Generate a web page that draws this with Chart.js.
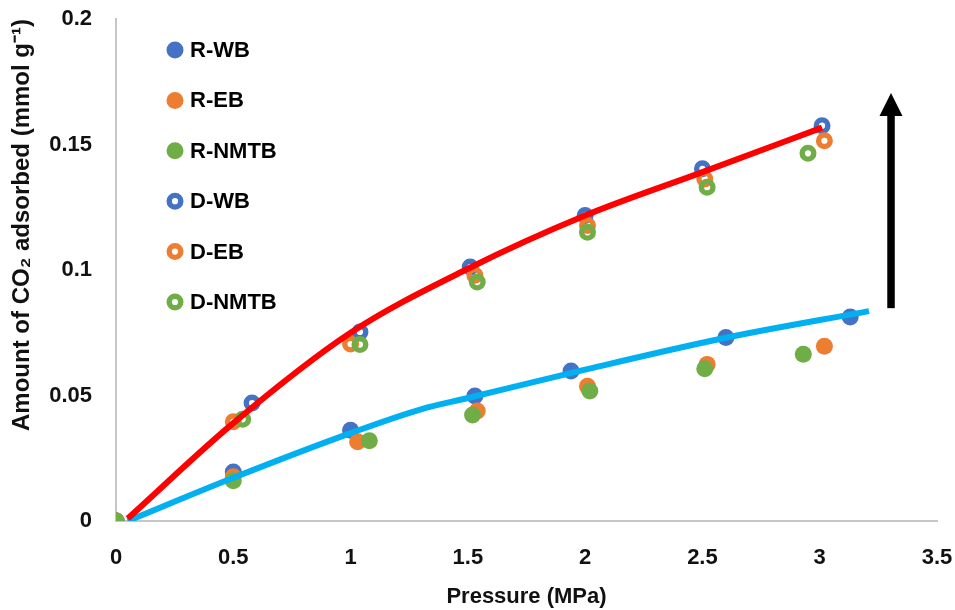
<!doctype html>
<html lang="en">
  <head>
    <meta charset="utf-8">
    <title>CO2 adsorption vs pressure</title>
    <style>
      * {
        margin: 0;
        padding: 0;
      }
      body {
        background: #fff;
      }
      .chartBox {
        width: 955px;
        height: 610px;
      }
    </style>
  </head>
  <body>
    <div class="chartBox">
      <canvas id="myChart" width="955" height="610"></canvas>
    </div>
    <script src="https://cdn.jsdelivr.net/npm/chart.js"></script>
    <script>
    // data (pressure in MPa, amount in mmol/g)
    const seriesNames = ['R-WB', 'R-EB', 'R-NMTB', 'D-WB', 'D-EB', 'D-NMTB'];

    const rWbX = [0, 0.50, 1.00, 1.53, 1.94, 2.60, 3.13];
    const rWbY = [0, 0.0195, 0.0362, 0.0498, 0.0598, 0.0731, 0.0813];
    const rEbX = [0, 0.50, 1.03, 1.54, 2.01, 2.52, 3.02];
    const rEbY = [0, 0.0176, 0.0316, 0.0438, 0.0537, 0.0624, 0.0696];
    const rNmtbX = [0, 0.50, 1.08, 1.52, 2.02, 2.51, 2.93];
    const rNmtbY = [0, 0.0160, 0.0320, 0.0422, 0.0518, 0.0607, 0.0664];

    const dWbX = [0, 0.58, 1.04, 1.51, 2.00, 2.50, 3.01];
    const dWbY = [0, 0.0470, 0.0753, 0.1012, 0.1217, 0.1403, 0.1575];
    const dEbX = [0, 0.50, 1.00, 1.53, 2.01, 2.51, 3.02];
    const dEbY = [0, 0.0395, 0.0705, 0.0979, 0.1177, 0.1363, 0.1515];
    const dNmtbX = [0, 0.54, 1.04, 1.54, 2.01, 2.52, 2.95];
    const dNmtbY = [0, 0.0405, 0.0703, 0.0952, 0.1150, 0.1330, 0.1465];

    // fitted curves
    const redX = [0.05, 0.5, 1.0, 1.5, 2.0, 2.5, 3.01];
    const redY = [0.001, 0.039, 0.075, 0.1005, 0.1217, 0.139, 0.1567];
    const blueX = [0.05, 0.5, 1.0, 1.3, 1.5, 2.0, 2.6, 3.21];
    const blueY = [0, 0.0172, 0.035, 0.0445, 0.049, 0.0603, 0.0730, 0.0836];

    // arrow annotation (x, y from -> to)
    const arrowX = [3.304, 3.304];
    const arrowY = [0.0848, 0.1705];

    const blue = '#4472C4';
    const orange = '#ED7D31';
    const green = '#70AD47';

    function pts(xs, ys) {
      return xs.map((x, i) => ({ x: x, y: ys[i] }));
    }

    function filled(label, xs, ys, color, order) {
      return {
        label, order,
        data: pts(xs, ys),
        pointRadius: 8.5,
        pointHoverRadius: 8.5,
        pointBackgroundColor: color,
        pointBorderWidth: 0,
        showLine: false
      };
    }

    function hollow(label, xs, ys, color, order) {
      return {
        label, order,
        data: pts(xs, ys),
        pointRadius: 5.8,
        pointHoverRadius: 5.8,
        pointBackgroundColor: 'rgba(0,0,0,0)',
        pointBorderColor: color,
        pointBorderWidth: 5.4,
        showLine: false
      };
    }

    function curve(label, xs, ys, color) {
      return {
        label, order: 0,
        data: pts(xs, ys),
        showLine: true,
        borderColor: color,
        borderWidth: 6,
        pointRadius: 0,
        cubicInterpolationMode: 'monotone',
        fill: false
      };
    }

    const legendStyle = [
      { color: blue, hollow: false },
      { color: orange, hollow: false },
      { color: green, hollow: false },
      { color: blue, hollow: true },
      { color: orange, hollow: true },
      { color: green, hollow: true }
    ];

    // legend drawn inside the plot area
    const innerLegend = {
      id: 'innerLegend',
      afterDraw(chart) {
        const { ctx, chartArea } = chart;
        ctx.save();
        ctx.font = 'bold 22px "Liberation Sans", Arial, sans-serif';
        ctx.textBaseline = 'middle';
        seriesNames.forEach((name, i) => {
          const cx = chartArea.left + 59;
          const cy = chartArea.top + 31 + i * 50.4;
          const st = legendStyle[i];
          ctx.beginPath();
          if (st.hollow) {
            ctx.arc(cx, cy, 5.8, 0, Math.PI * 2);
            ctx.lineWidth = 5.4;
            ctx.strokeStyle = st.color;
            ctx.stroke();
          } else {
            ctx.arc(cx, cy, 8.5, 0, Math.PI * 2);
            ctx.fillStyle = st.color;
            ctx.fill();
          }
          ctx.fillStyle = '#000';
          ctx.fillText(name, chartArea.left + 74, cy + 1);
        });
        ctx.restore();
      }
    };

    const arrowPlugin = {
      id: 'arrowPlugin',
      afterDatasetsDraw(chart) {
        const { ctx, scales: { x, y } } = chart;
        const px = x.getPixelForValue(arrowX[0]);
        const y0 = y.getPixelForValue(arrowY[0]);
        const y1 = y.getPixelForValue(arrowY[1]);
        ctx.save();
        ctx.fillStyle = '#000';
        ctx.fillRect(px - 3.75, y1 + 20, 7.5, y0 - y1 - 20);
        ctx.beginPath();
        ctx.moveTo(px, y1);
        ctx.lineTo(px + 11.5, y1 + 23);
        ctx.lineTo(px - 11.5, y1 + 23);
        ctx.closePath();
        ctx.fill();
        ctx.restore();
      }
    };

    const data = {
      datasets: [
        filled('R-WB', rWbX, rWbY, blue, 3),
        filled('R-EB', rEbX, rEbY, orange, 2),
        filled('R-NMTB', rNmtbX, rNmtbY, green, 1),
        hollow('D-WB', dWbX, dWbY, blue, 6),
        hollow('D-EB', dEbX, dEbY, orange, 5),
        hollow('D-NMTB', dNmtbX, dNmtbY, green, 4),
        curve('fit D', redX, redY, '#FF0000'),
        curve('fit R', blueX, blueY, '#00B0F0')
      ]
    };

    Chart.defaults.font.family = '"Liberation Sans", Arial, sans-serif';
    Chart.defaults.font.weight = 'bold';
    Chart.defaults.font.size = 22;
    Chart.defaults.color = '#111';

    // 0.20 -> "0.2", 1.0 -> "1"
    const plainNum = (v) => String(Number(v.toFixed(3)));

    const config = {
      type: 'scatter',
      data,
      options: {
        responsive: false,
        animation: false,
        layout: { padding: 0 },
        plugins: {
          legend: { display: false },
          tooltip: { enabled: false }
        },
        scales: {
          x: {
            type: 'linear',
            min: 0,
            max: 3.5,
            ticks: { stepSize: 0.5, padding: 24, callback: plainNum },
            grid: { display: false, drawTicks: false },
            border: { color: '#c6c6c6', width: 2 },
            title: {
              display: true,
              text: 'Pressure (MPa)',
              font: { size: 22, weight: 'bold' },
              padding: { top: 0, bottom: 0 }
            },
            afterFit(scale) {
              scale.height = 89;
              scale.paddingRight = 18;
            }
          },
          y: {
            min: 0,
            max: 0.2,
            ticks: { stepSize: 0.05, padding: 24, callback: plainNum },
            grid: { display: false, drawTicks: false },
            border: { color: '#c6c6c6', width: 2 },
            title: {
              display: true,
              text: 'Amount of CO\u2082 adsorbed (mmol g\u207B\u00B9)',
              align: 'end',
              font: { size: 24, weight: 'bold' },
              padding: { top: 8, bottom: 0 }
            },
            afterFit(scale) {
              scale.width = 116;
              scale.paddingTop = 19;
            }
          }
        }
      },
      plugins: [innerLegend, arrowPlugin]
    };

    const myChart = new Chart(document.getElementById('myChart'), config);
    </script>
  </body>
</html>
